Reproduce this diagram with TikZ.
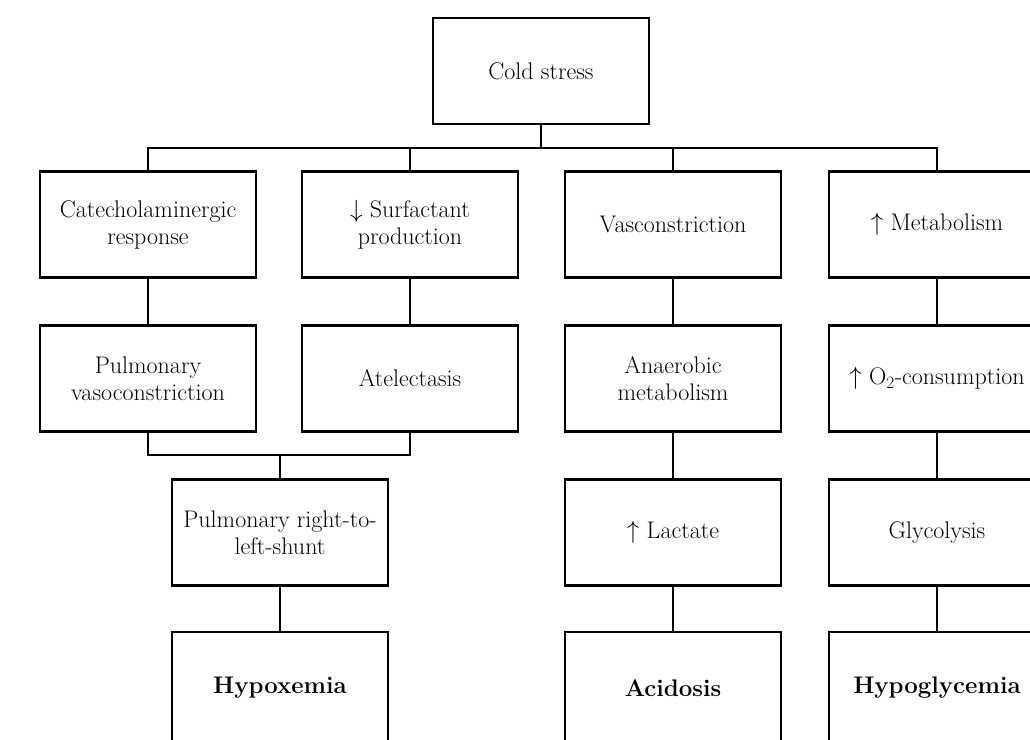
\documentclass[tikz,border=0pt]{standalone}
\begin{document}
\begin{tikzpicture}[x=1pt,y=-1pt,
  box/.style={draw, line width=2.9pt, minimum width=216pt, minimum height=106pt, align=center, inner sep=0pt, font=\fontsize{24}{27}\selectfont},
  lastbox/.style={box, minimum height=112pt},
  conn/.style={line width=2.9pt}]
\useasboundingbox (0,0) rectangle (1030,739);
\clip (0,0) rectangle (1030,739);
\node[box] (cold) at (541,71) {Cold stress};
% row 1
\node[box] (a1) at (148,224.5) {Catecholaminergic\\response};
\node[box] (b1) at (410,224.5) {$\downarrow$ Surfactant\\production};
\node[box] (c1) at (673,224.5) {Vasconstriction};
\node[box] (d1) at (937,224.5) {$\uparrow$ Metabolism};
% row 2
\node[box] (a2) at (148,378.5) {Pulmonary\\vasoconstriction};
\node[box] (b2) at (410,378.5) {Atelectasis};
\node[box] (c2) at (673,378.5) {Anaerobic\\metabolism};
\node[box] (d2) at (937,378.5) {$\uparrow$ O$_2$-consumption};
% row 3
\node[box] (e3) at (280,532.5) {Pulmonary right-to-\\left-shunt};
\node[box] (c3) at (673,532.5) {$\uparrow$ Lactate};
\node[box] (d3) at (937,532.5) {Glycolysis};
% row 4
\node[lastbox] (e4) at (280,688) {\textbf{Hypoxemia}};
\node[lastbox] (c4) at (673,688) {\textbf{Acidosis}};
\node[lastbox] (d4) at (937,688) {\textbf{Hypoglycemia}};
% connectors
\coordinate (bus) at (0,148);
\coordinate (join) at (0,455);
\draw[conn] (cold.south) -- (cold.south |- bus);
\draw[conn] (a1.north) -- (a1.north |- bus) -- (d1.north |- bus) -- (d1.north);
\draw[conn] (b1.north) -- (b1.north |- bus);
\draw[conn] (c1.north) -- (c1.north |- bus);
\draw[conn] (a1) -- (a2);
\draw[conn] (b1) -- (b2);
\draw[conn] (c1) -- (c2);
\draw[conn] (d1) -- (d2);
\draw[conn] (a2.south) -- (a2.south |- join) -- (b2.south |- join) -- (b2.south);
\draw[conn] (e3.north |- join) -- (e3.north);
\draw[conn] (c2) -- (c3);
\draw[conn] (d2) -- (d3);
\draw[conn] (e3) -- (e4);
\draw[conn] (c3) -- (c4);
\draw[conn] (d3) -- (d4);
\end{tikzpicture}
\end{document}
